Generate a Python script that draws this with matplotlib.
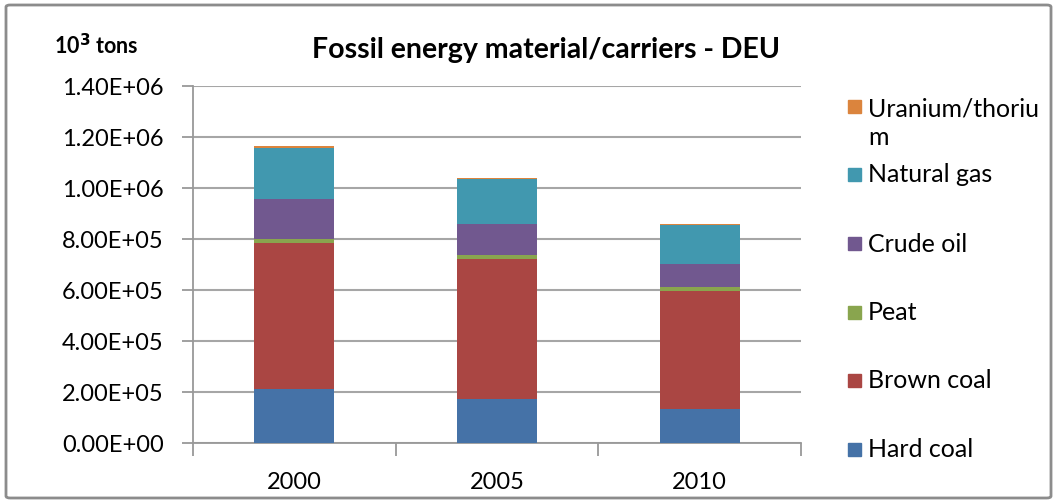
import matplotlib.pyplot as plt
from matplotlib.patches import Rectangle, FancyBboxPatch

plt.rcParams['font.family'] = ['Lato', 'DejaVu Sans']

years = ['2000', '2005', '2010']
series = ['Hard coal', 'Brown coal', 'Peat', 'Crude oil', 'Natural gas', 'Uranium/thorium']
hard_coal = [2.10e5, 1.74e5, 1.35e5]
brown_coal = [5.75e5, 5.47e5, 4.60e5]
peat = [0.15e5, 0.15e5, 0.16e5]
crude_oil = [1.55e5, 1.21e5, 0.91e5]
natural_gas = [2.02e5, 1.79e5, 1.53e5]
uranium = [0.06e5, 0.05e5, 0.05e5]
yticks = [0, 2e5, 4e5, 6e5, 8e5, 10e5, 12e5, 14e5]

colors = ['#4572A7', '#AA4643', '#89A54E', '#71588F', '#4198AF', '#DB843D']
values = [hard_coal, brown_coal, peat, crude_oil, natural_gas, uranium]

W, H = 1055, 502
fig = plt.figure(figsize=(W / 100, H / 100), dpi=100)
ax = fig.add_axes([193 / W, 1 - 444 / H, (801 - 193) / W, (444 - 87) / H])

x = list(range(len(years)))
bottom = [0, 0, 0]
for vals, col in zip(values, colors):
    ax.bar(x, vals, 0.394, bottom=bottom, color=col, edgecolor='none', zorder=3)
    bottom = [b + v for b, v in zip(bottom, vals)]

ax.set_xlim(-0.5, 2.5)
ax.set_ylim(0, 1.4e6)
ax.set_yticks(yticks)
ax.set_yticklabels([f'{v:.2E}' for v in yticks], fontsize=17)
ax.set_xticks(x)
ax.set_xticklabels(years, fontsize=17)
ax.set_xticks([-0.5, 0.5, 1.5, 2.5], minor=True)
ax.tick_params(axis='x', which='major', length=0, pad=20)
ax.tick_params(axis='x', which='minor', length=9, color='#999999', width=1.3)
ax.tick_params(axis='y', length=8, color='#999999', width=1.3, pad=13)
ax.grid(axis='y', color='#A6A6A6', linewidth=1.5, zorder=0)
for s in ['top', 'right']:
    ax.spines[s].set_visible(False)
for s in ['left', 'bottom']:
    ax.spines[s].set_color('#999999')
    ax.spines[s].set_linewidth(1.3)

fig.text(546 / W, 1 - 50 / H, 'Fossil energy material/carriers - DEU',
         ha='center', va='center', fontsize=20.5, fontweight='bold')
fig.text(54 / W, 1 - 46 / H, r'10$^{\mathbf{3}}$ tons', ha='left', va='center',
         fontsize=15.5, fontweight='bold')

# legend, drawn by hand to keep Excel's spacing
leg_y = [450, 381, 313, 244, 175, 107]
labels = ['Hard coal', 'Brown coal', 'Peat', 'Crude oil', 'Natural gas', 'Uranium/thoriu\nm']
for yy, lab, col in zip(leg_y, labels, colors):
    fig.patches.append(Rectangle((848 / W, 1 - (yy + 7) / H), 13 / W, 13 / H,
                                 transform=fig.transFigure, color=col))
    ty = yy + 16 if '\n' in lab else yy
    fig.text(868 / W, 1 - ty / H, lab, ha='left', va='center',
             fontsize=18, linespacing=1.3)

fig.patches.append(FancyBboxPatch((6 / W, 3 / H), (W - 10) / W, (H - 9) / H,
                                  boxstyle='round,pad=0,rounding_size=0.004',
                                  transform=fig.transFigure, fill=False,
                                  edgecolor='#8C8C8C', linewidth=2))

fig.savefig('out.png', dpi=100)
